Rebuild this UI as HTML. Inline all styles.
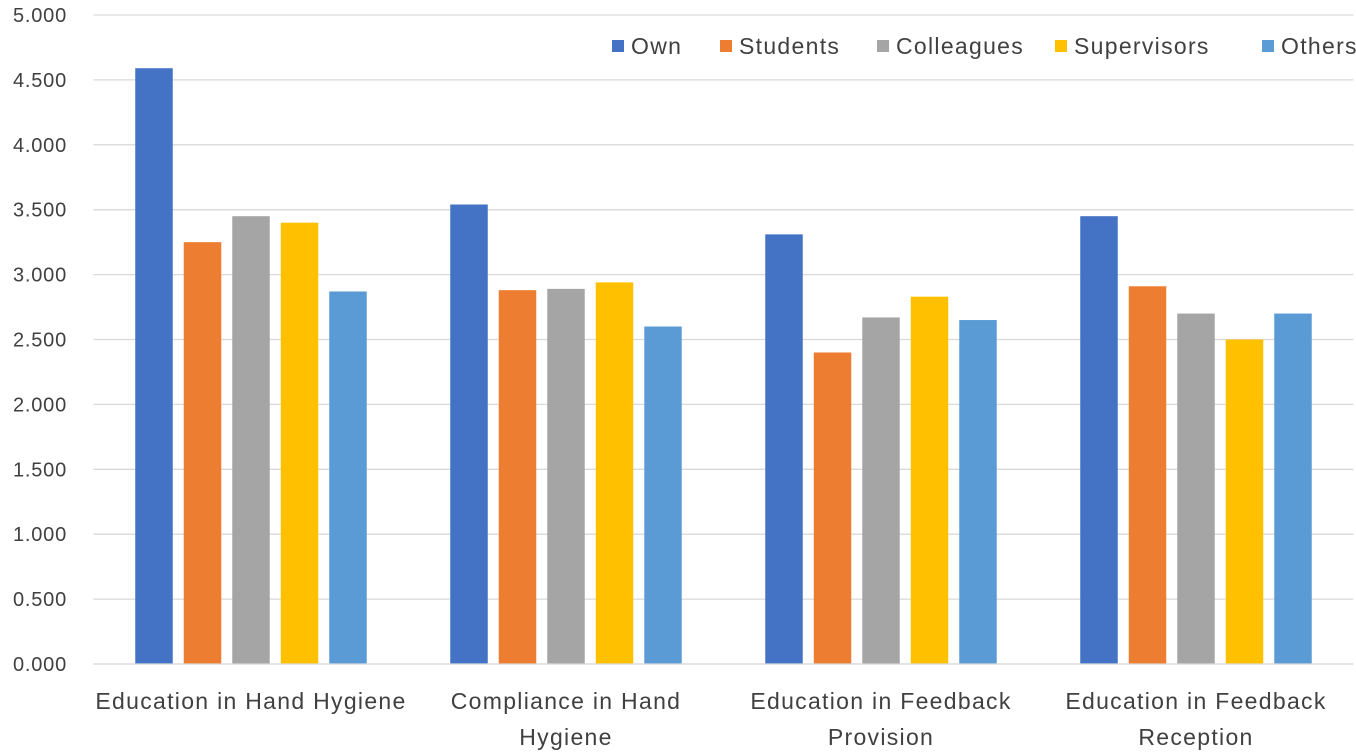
<!DOCTYPE html>
<html><head><meta charset="utf-8"><style>
html,body{margin:0;padding:0;background:#fff;}
svg{display:block;font-family:"Liberation Sans",sans-serif;}
</style></head><body>
<svg id="chart" width="1356" height="753"></svg>
<script>
const categories = [["Education in Hand Hygiene"],["Compliance in Hand","Hygiene"],["Education in Feedback","Provision"],["Education in Feedback","Reception"]];
const seriesNames = ["Own","Students","Colleagues","Supervisors","Others"];
const colors = ["#4472C4","#ED7D31","#A5A5A5","#FFC000","#5B9BD5"];
const groupEduHH = [4.59,3.25,3.45,3.40,2.87];
const groupCompHH = [3.54,2.88,2.89,2.94,2.60];
const groupFbProv = [3.31,2.40,2.67,2.83,2.65];
const groupFbRec = [3.45,2.91,2.70,2.50,2.70];
const values = [groupEduHH,groupCompHH,groupFbProv,groupFbRec];
const yTicks = ["0.000","0.500","1.000","1.500","2.000","2.500","3.000","3.500","4.000","4.500","5.000"];

const NS="http://www.w3.org/2000/svg";
const svgEl=document.getElementById('chart');
const plotLeft=93.5, plotRight=1353.5, plotTop=15, plotBottom=664, yMax=5;
const yScale=v=>plotBottom-(v/yMax)*(plotBottom-plotTop);
const catW=(plotRight-plotLeft)/categories.length;
const xCat=i=>plotLeft+catW*i;
function mk(t,a){const e=document.createElementNS(NS,t);for(const k in a)e.setAttribute(k,a[k]);svgEl.appendChild(e);return e;}

yTicks.forEach((t)=>{
  const v=parseFloat(t);
  const g=mk('line',{x1:plotLeft,x2:plotRight,y1:yScale(v),y2:yScale(v),stroke:'#d9d9d9','stroke-width':1.3});
  
  
  const tx=mk('text',{x:67,y:yScale(v)+7,'text-anchor':'end','font-size':20,'letter-spacing':0.8,fill:'#404040'});
  tx.textContent=t;
  
  
});

const barW=37.5, step=48.5;
values.forEach((grp,ci)=>{
  const c=xCat(ci)+catW/2;
  grp.forEach((v,si)=>{
    const x=c+(si-2)*step-barW/2;
    const r=mk('rect',{x:x,y:yScale(v),width:barW,height:plotBottom-yScale(v),fill:colors[si]});
    
    
  });
  categories[ci].forEach((ln,li)=>{
    const t=mk('text',{x:c,y:709+li*36,'text-anchor':'middle','font-size':23,'letter-spacing':1.3,fill:'#404040'});
    t.textContent=ln;
    
    
  });
});
const ax=mk('line',{x1:plotLeft,x2:plotRight,y1:plotBottom,y2:plotBottom,stroke:'#d9d9d9','stroke-width':1.3});



const legX=[612,720,877,1055,1262];
seriesNames.forEach((n,i)=>{
  const s=mk('rect',{x:legX[i],y:40,width:12,height:12,fill:colors[i]});
  
  
  const t=mk('text',{x:legX[i]+19,y:54,'font-size':23,'letter-spacing':1.3,fill:'#404040'});
  t.textContent=n;
  
  
});
</script>
</body></html>
